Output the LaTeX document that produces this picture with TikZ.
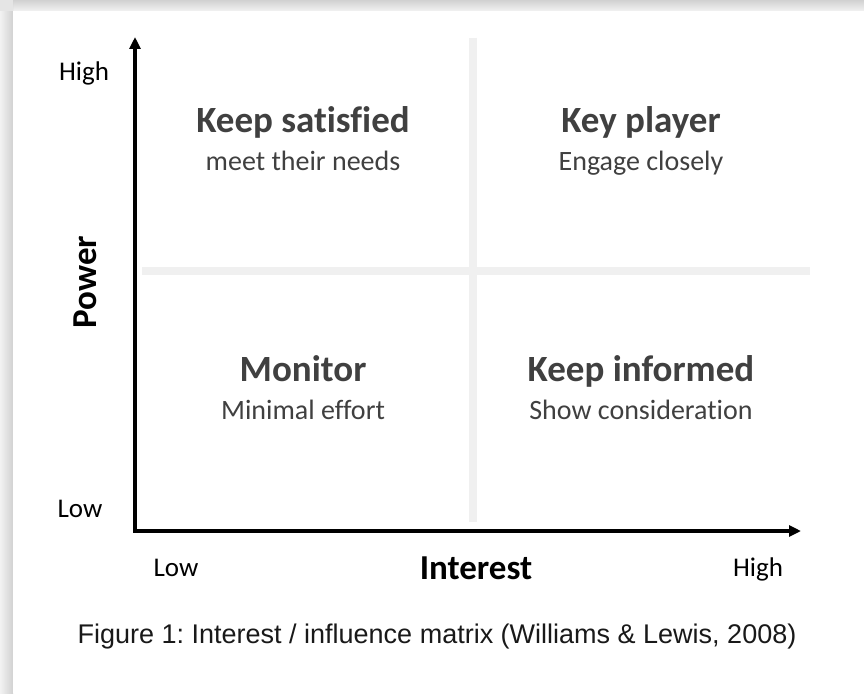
\documentclass[tikz,border=0pt]{standalone}
\usepackage{fontspec}
\setmainfont{Carlito}[Ligatures={NoCommon,NoRequired,NoContextual}]
\newfontfamily\capfont{Liberation Sans}
\usetikzlibrary{arrows.meta}
\definecolor{txtgray}{HTML}{404040}
\definecolor{gridgray}{HTML}{F0F0F0}
\frenchspacing
\begin{document}
\begin{tikzpicture}[x=1pt,y=-1pt,
  title/.style={font=\fontsize{37}{40}\selectfont\bfseries, text=txtgray, inner sep=0pt, anchor=base},
  sub/.style={font=\fontsize{28}{30}\selectfont, text=txtgray, inner sep=0pt, anchor=base},
  axlabel/.style={font=\fontsize{27}{30}\selectfont, text=black, inner sep=0pt, anchor=base},
  axtitle/.style={font=\fontsize{35}{38}\selectfont\bfseries, text=black, inner sep=0pt},
  axisline/.style={line width=3.2pt, -{Triangle[length=12pt,width=11pt]}},
  gridline/.style={line width=7.5pt, draw=gridgray}]
\useasboundingbox (0,0) rectangle (864,693);
% shadow frame
\shade[top color=black!18, bottom color=black!5] (0,0) rectangle (864,11);
\shade[left color=black!5, right color=black!18] (0,0) rectangle (13,693);
\fill[black!10] (0,0) rectangle (13,11);
\fill[white] (13,11) rectangle (864,693);
% grid lines
\coordinate (vt) at (473,38);
\coordinate (vb) at (473,522);
\coordinate (hl) at (142,271);
\coordinate (hr) at (810,271);
\draw[gridline] (vt) -- (vb);
\draw[gridline] (hl) -- (hr);
% axes
\coordinate (o) at (135,531);
\coordinate (ytip) at (135,37);
\coordinate (xtip) at (801,531);
\draw[axisline, line cap=rect] (o) -- (ytip);
\draw[axisline] (o) -- (xtip);
% axis labels
\node[axlabel] (yhigh) at (84,81) {High};
\node[axlabel] (ylow) at (80,517) {Low};
\node[axlabel] (xlow) at (176,576) {Low};
\node[axlabel] (xhigh) at (758,576) {High};
\node[axtitle, rotate=90] (power) at (85,282) {Power};
\node[axtitle] (interest) at (476,568) {Interest};
% quadrants
\node[title] (ks) at (303,132) {Keep satisfied};
\node[sub] (ksb) at (303,170) {meet their needs};
\node[title] (kp) at (641,132) {Key player};
\node[sub] (kpb) at (641,170) {Engage closely};
\node[title] (mo) at (303,381) {Monitor};
\node[sub] (mob) at (303,419) {Minimal effort};
\node[title] (ki) at (641,381) {Keep informed};
\node[sub] (kib) at (641,419) {Show consideration};
% caption
\node[font=\capfont\fontsize{27}{30}\selectfont, text=black!90, inner sep=0pt] (cap) at (437,637) {Figure 1: Interest / influence matrix (Williams \& Lewis, 2008)};
\end{tikzpicture}
\end{document}
